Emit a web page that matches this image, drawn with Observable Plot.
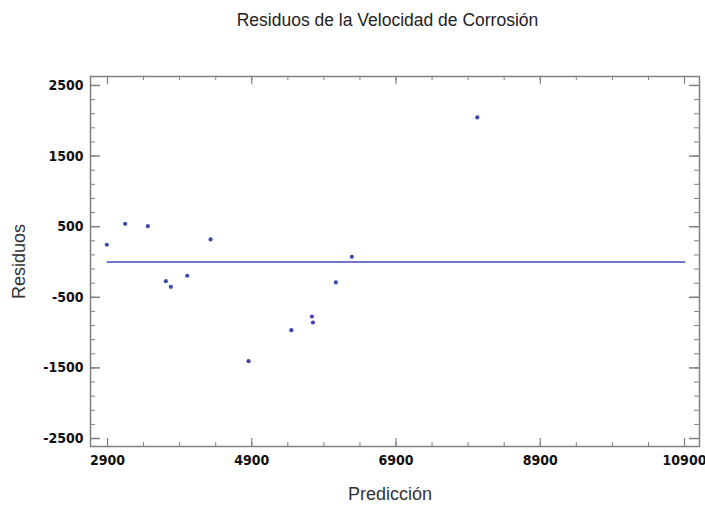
<!DOCTYPE html>
<html>
<head>
<meta charset="utf-8">
<script src="https://cdn.jsdelivr.net/npm/d3@7"></script>
<script src="https://cdn.jsdelivr.net/npm/@observablehq/plot@0.6"></script>
<style>
  html, body { margin: 0; padding: 0; background: #fff; }
  #title { height: 40px; width: 705px; box-sizing: border-box; padding-left: 70px; text-align: center;
           font-family: "Liberation Sans", Arial, sans-serif; font-size: 17.5px; line-height: 40px; color: #222; }
  svg { display: block; }
</style>
</head>
<body>
<div id="title">Residuos de la Velocidad de Corrosión</div>
<div id="chart"></div>
<script>
// Data
const prediccion = [2890, 3145, 3459, 3709, 3778, 4005, 4329, 4856, 5448, 5734, 5748, 6066, 6288, 8027];
const residuos   = [244, 541, 507, -272, -351, -195, 319, -1405, -966, -772, -857, -290, 74, 2047];
const xTicks = [2900, 4900, 6900, 8900, 10900];
const yTicks = [-2500, -1500, -500, 500, 1500, 2500];
const xMinor = d3.range(2900, 11000, 500);
const yMinor = d3.range(-2500, 2600, 200);
const refLineX = [2900, 10900];
const refLineY = [0, 0];

const points = prediccion.map((x, i) => ({x, y: residuos[i]}));
const refLine = refLineX.map((x, i) => ({x, y: refLineY[i]}));

const W = 705, H = 468;
const mL = 90, mR = 6, mT = 36, mB = 62;
const fw = W - mL - mR, fh = H - mT - mB;
const frameColor = "#808080";
const tickFont = "'DejaVu Sans Condensed', 'Liberation Sans', Arial, sans-serif";

const chart = Plot.plot({
  width: W, height: H,
  marginLeft: mL, marginRight: mR, marginTop: mT, marginBottom: mB,
  x: {domain: [2664, 11108]},
  y: {domain: [-2613, 2627]},
  style: {background: "#fff"},
  marks: [
    // minor ticks
    Plot.tickX(xMinor, {x: d => d, insetTop: fh - 4, stroke: frameColor, strokeWidth: 1}),
    Plot.tickX(xMinor, {x: d => d, insetBottom: fh - 4, stroke: frameColor, strokeWidth: 1}),
    Plot.tickY(yMinor, {y: d => d, insetRight: fw - 5, stroke: frameColor, strokeWidth: 1}),
    Plot.tickY(yMinor, {y: d => d, insetLeft: fw - 5, stroke: frameColor, strokeWidth: 1}),
    // major ticks
    Plot.tickX(xTicks, {x: d => d, insetTop: fh - 8, stroke: frameColor, strokeWidth: 1.2}),
    Plot.tickX(xTicks, {x: d => d, insetBottom: fh - 8, stroke: frameColor, strokeWidth: 1.2}),
    Plot.tickY(yTicks, {y: d => d, insetRight: fw - 10, stroke: frameColor, strokeWidth: 1.5}),
    Plot.tickY(yTicks, {y: d => d, insetLeft: fw - 10, stroke: frameColor, strokeWidth: 1.5}),
    Plot.frame({stroke: frameColor, strokeWidth: 1.5}),
    Plot.axisX({ticks: xTicks, tickSize: 0, tickPadding: 9, tickFormat: d => String(d),
      fontFamily: tickFont, fontWeight: "bold", fontSize: 14, fill: "#111",
      label: "Predicción", labelAnchor: "center", labelArrow: "none", labelOffset: 53}),
    Plot.axisY({ticks: yTicks, tickSize: 0, tickPadding: 7, tickFormat: d => String(d),
      fontFamily: tickFont, fontWeight: "bold", fontSize: 14, fill: "#111",
      label: "Residuos", labelAnchor: "center", labelArrow: "none", labelOffset: 78}),
    Plot.line(refLine, {x: "x", y: "y", stroke: "#7076cc", strokeWidth: 2}),
    Plot.dot(points, {x: "x", y: "y", r: 2.1, fill: "#3f47ad", stroke: "none"})
  ]
});
document.getElementById("chart").appendChild(chart);
// style axis labels (regular weight, larger)
chart.querySelectorAll("g[aria-label='x-axis label'] text, g[aria-label='y-axis label'] text").forEach(t => {
  t.setAttribute("font-weight", "normal");
  t.setAttribute("font-size", "18");
  t.setAttribute("font-family", "'Liberation Sans', Arial, sans-serif");
  t.setAttribute("fill", "#333");
});
chart.querySelectorAll("g[aria-label='x-axis label'] text").forEach(t => t.setAttribute("dx", "-5"));
</script>
</body>
</html>
